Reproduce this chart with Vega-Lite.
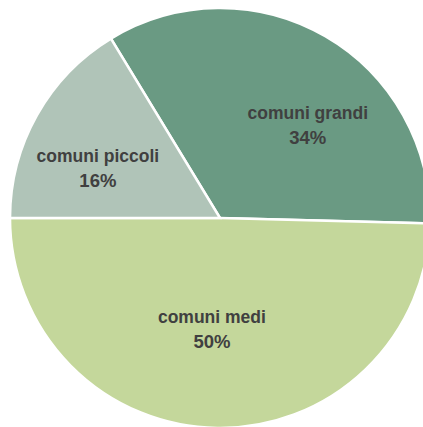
{
  "$schema": "https://vega.github.io/schema/vega-lite/v6.json",
  "autosize": "none",
  "padding": {"left": 10, "top": 8, "right": 0, "bottom": 0},
  "width": 420,
  "height": 420,
  "background": "white",
  "view": {"stroke": null},
  "data": {
    "values": [
      {"categoria": "comuni grandi", "quota": 0.341},
      {"categoria": "comuni medi", "quota": 0.496},
      {"categoria": "comuni piccoli", "quota": 0.163}
    ]
  },
  "encoding": {
    "theta": {"field": "quota", "type": "quantitative", "stack": true, "scale": {"range": [5.7369, 12.0201]}},
    "order": {"field": "categoria", "type": "nominal", "sort": "ascending"}
  },
  "layer": [
    {
      "mark": {"type": "arc", "outerRadius": 210, "stroke": "white", "strokeWidth": 2.5},
      "encoding": {
        "color": {
          "field": "categoria", "type": "nominal", "legend": null,
          "scale": {"domain": ["comuni grandi", "comuni medi", "comuni piccoli"], "range": ["#6a9a83", "#c4d79b", "#b0c4b8"]}
        }
      }
    },
    {
      "mark": {
        "type": "text", "font": "Liberation Sans", "fontWeight": "bold", "fontSize": 17.5, "fill": "#404040",
        "align": "center", "baseline": "alphabetic", "dy": -6,
        "radius": {"expr": "datum.categoria === 'comuni grandi' ? 128 : datum.categoria === 'comuni medi' ? 111 : 132"},
        "thetaOffset": {"expr": "datum.categoria === 'comuni grandi' ? 0.231 : datum.categoria === 'comuni medi' ? 0.06 : -0.123"}
      },
      "encoding": {"text": {"field": "categoria", "type": "nominal"}}
    },
    {
      "mark": {
        "type": "text", "font": "Liberation Sans", "fontWeight": "bold", "fontSize": 18.5, "fill": "#404040",
        "align": "center", "baseline": "alphabetic", "dy": 19,
        "radius": {"expr": "datum.categoria === 'comuni grandi' ? 128 : datum.categoria === 'comuni medi' ? 111 : 132"},
        "thetaOffset": {"expr": "datum.categoria === 'comuni grandi' ? 0.231 : datum.categoria === 'comuni medi' ? 0.06 : -0.123"}
      },
      "encoding": {"text": {"field": "quota", "type": "quantitative", "format": ".0%"}}
    }
  ]
}
